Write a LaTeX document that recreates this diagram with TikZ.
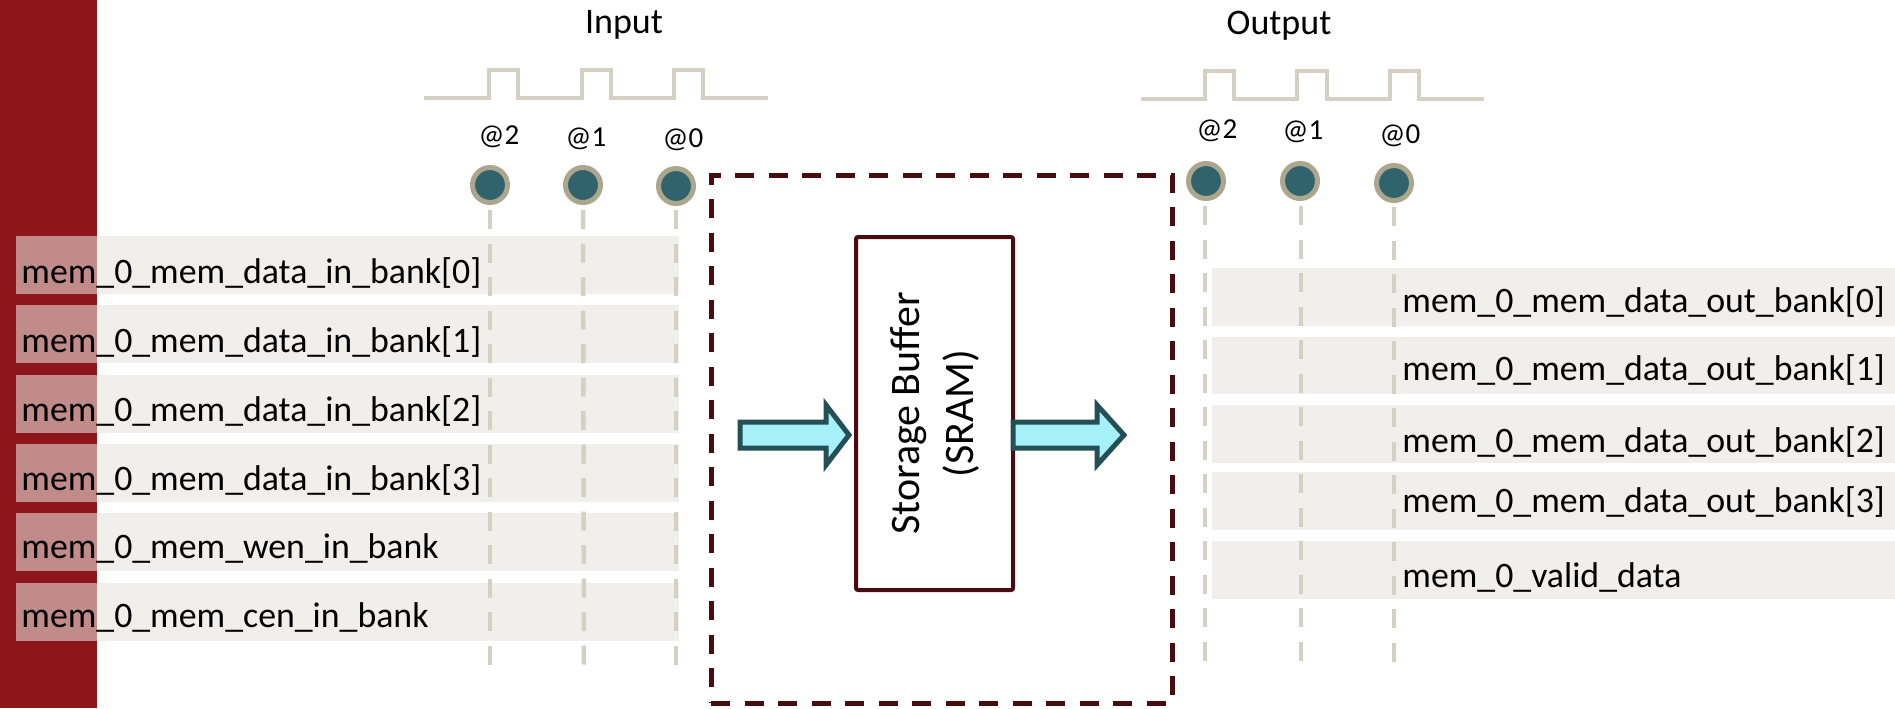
\documentclass[tikz,border=0pt]{standalone}
\usepackage{fontspec}
\setmainfont{Carlito}
\usetikzlibrary{calc}

\definecolor{barred}{RGB}{142,22,26}
\definecolor{rowfill}{RGB}{231,228,221}
\definecolor{guide}{RGB}{212,209,196}
\definecolor{ringtan}{RGB}{172,166,142}
\definecolor{dotteal}{RGB}{48,99,107}
\definecolor{darkmaroon}{RGB}{74,13,15}
\definecolor{arrowfill}{RGB}{166,240,250}
\definecolor{arrowedge}{RGB}{35,79,85}

\tikzset{
  sigrow/.style={fill=rowfill, fill opacity=0.57},
  siglabel/.style={anchor=base west, inner sep=0pt, font=\fontsize{17.9}{21}\selectfont},
  title/.style={anchor=base, inner sep=0pt, font=\fontsize{18}{22}\selectfont},
  cyclelabel/.style={anchor=base, inner sep=0pt, font=\fontsize{14.5}{17}\selectfont},
  tap/.style={circle, inner sep=0pt, minimum size=17.5pt, line width=2.5pt, draw=ringtan, fill=dotteal},
  guideline/.style={draw=guide, line width=2.25pt, dash pattern=on 9.5pt off 7.25pt},
  clockline/.style={draw=guide, line width=1.6pt},
  frame/.style={draw=darkmaroon, line width=2.5pt, dash pattern=on 9.5pt off 7.25pt,
                inner sep=0pt, minimum width=230.5pt, minimum height=264pt},
  bufferbox/.style={draw=darkmaroon, line width=2pt, rounded corners=1pt, fill=white,
                    inner sep=0pt, minimum width=78.5pt, minimum height=176.5pt},
  buffertext/.style={rotate=90, align=center, inner sep=0pt,
                     font=\fontsize{21}{27}\selectfont},
  blockarrow/.style={draw=arrowedge, fill=arrowfill, line width=2.5pt, line join=miter},
}

\begin{document}
\begin{tikzpicture}[x=0.5pt, y=-0.5pt]
  % page and side bar
  \fill[white] (0,0) rectangle (1895,708);
  \useasboundingbox (0,0) rectangle (1895,708);
  \fill[barred] (0,0) rectangle (97,708);

  % ---------- input side ----------
  \node[title] (intitle) at (624,33) {Input};
  \draw[clockline] (424,98) -- (489,98) -- (489,70) -- (518,70) -- (518,98)
                   -- (582,98) -- (582,70) -- (611,70) -- (611,98)
                   -- (674,98) -- (674,70) -- (703,70) -- (703,98) -- (768,98);

  \node[cyclelabel] (inat2) at (499,144) {@2};
  \node[cyclelabel] (inat1) at (586,146) {@1};
  \node[cyclelabel] (inat0) at (683,147) {@0};

  % signal rows
  \foreach \y in {236,305,375,444,513,583}
    \fill[sigrow] (16,\y) rectangle (679,\y+58);

  \node[siglabel] (din0) at (21,283) {mem\_0\_mem\_data\_in\_bank[0]};
  \node[siglabel] (din1) at (21,352) {mem\_0\_mem\_data\_in\_bank[1]};
  \node[siglabel] (din2) at (21,421) {mem\_0\_mem\_data\_in\_bank[2]};
  \node[siglabel] (din3) at (21,490) {mem\_0\_mem\_data\_in\_bank[3]};
  \node[siglabel] (wen)  at (21,558) {mem\_0\_mem\_wen\_in\_bank};
  \node[siglabel] (cen)  at (21,627) {mem\_0\_mem\_cen\_in\_bank};

  % sampling points and their guides
  \node[tap] (tapI2) at (490,185) {};
  \node[tap] (tapI1) at (583,185) {};
  \node[tap] (tapI0) at (676,186) {};
  \coordinate (endI2) at (490,666);
  \coordinate (endI1) at (584,666);
  \coordinate (endI0) at (676,666);
  \draw[guideline] ($(tapI2)+(0,25)$) -- (endI2);
  \draw[guideline] ($(tapI1)+(0,25)$) -- (endI1);
  \draw[guideline] ($(tapI0)+(0,24)$) -- (endI0);

  % ---------- storage ----------
  \node[frame] (sramframe) at (941.5,439) {};
  \node[bufferbox] (buf) at (934.5,413.5) {};
  \node[buffertext] (buflabel) at (buf.center) {Storage Buffer\\(SRAM)};

  \draw[blockarrow] (740,422) -- (826,422) -- (826,405) -- (849,435)
                    -- (826,465) -- (826,448) -- (740,448) -- cycle;
  \draw[blockarrow] (1013,422) -- (1097,422) -- (1097,405) -- (1124,435)
                    -- (1097,465) -- (1097,448) -- (1013,448) -- cycle;

  % ---------- output side ----------
  \node[title] (outtitle) at (1279,34) {Output};
  \draw[clockline] (1141,99) -- (1205,99) -- (1205,71) -- (1234,71) -- (1234,99)
                   -- (1297,99) -- (1297,71) -- (1327,71) -- (1327,99)
                   -- (1390,99) -- (1390,71) -- (1419,71) -- (1419,99) -- (1484,99);

  \node[cyclelabel] (outat2) at (1217,138) {@2};
  \node[cyclelabel] (outat1) at (1303,139) {@1};
  \node[cyclelabel] (outat0) at (1400,143) {@0};

  \foreach \y/\h in {268/58,337/57,405/58,472/58,541/58}
    \fill[sigrow] (1212,\y) rectangle (1895,\y+\h);

  \node[siglabel] (dout0) at (1402,312) {mem\_0\_mem\_data\_out\_bank[0]};
  \node[siglabel] (dout1) at (1402,380) {mem\_0\_mem\_data\_out\_bank[1]};
  \node[siglabel] (dout2) at (1402,452) {mem\_0\_mem\_data\_out\_bank[2]};
  \node[siglabel] (dout3) at (1402,512) {mem\_0\_mem\_data\_out\_bank[3]};
  \node[siglabel] (valid) at (1402,587) {mem\_0\_valid\_data};

  \node[tap] (tapO2) at (1206,181) {};
  \node[tap] (tapO1) at (1300,181) {};
  \node[tap] (tapO0) at (1394,183) {};
  \coordinate (endO2) at (1205,664);
  \coordinate (endO1) at (1301,664);
  \coordinate (endO0) at (1394,664);
  \draw[guideline] ($(tapO2)+(-1,25)$) -- (endO2);
  \draw[guideline] ($(tapO1)+(1,25)$) -- (endO1);
  \draw[guideline] ($(tapO0)+(0,24)$) -- (endO0);
\end{tikzpicture}
\end{document}
